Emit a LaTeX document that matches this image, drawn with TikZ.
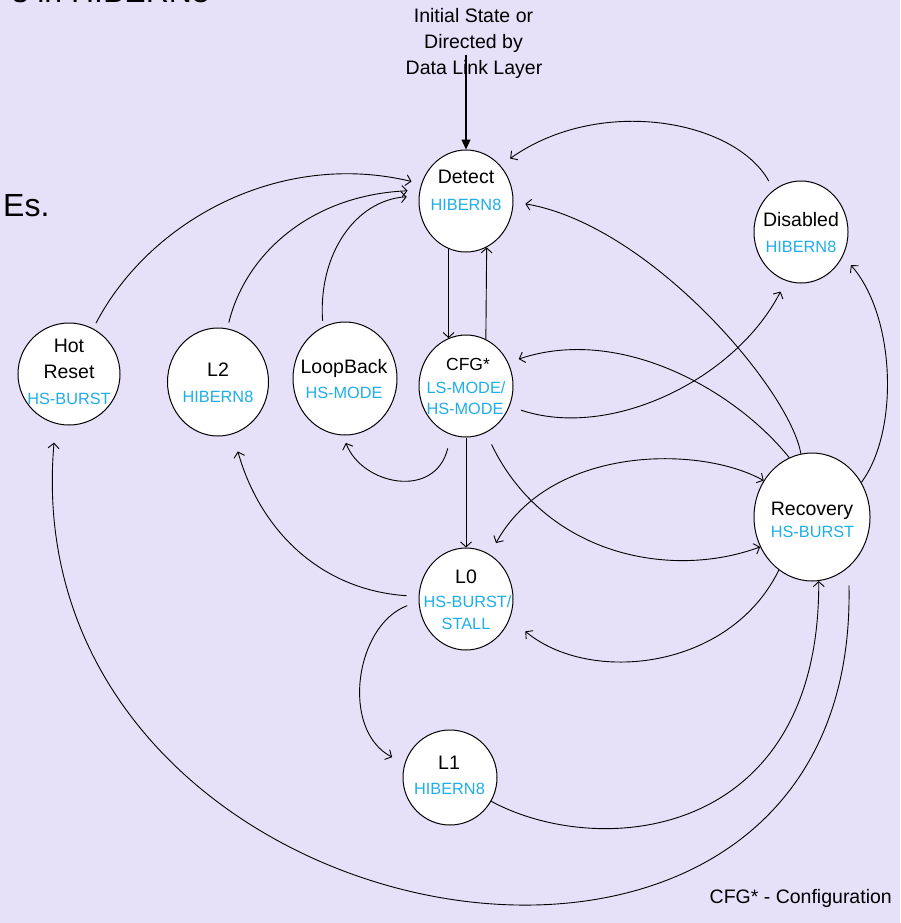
\documentclass[tikz,border=0pt]{standalone}
\usepackage{fontspec}
\setmainfont{Liberation Sans}
\usetikzlibrary{shapes.geometric,arrows.meta}
\definecolor{bgc}{RGB}{230,224,248}
\definecolor{stc}{RGB}{30,174,234}
\begin{document}
\begin{tikzpicture}[x=1pt,y=-1pt,
  st/.style={ellipse, draw=black, line width=1pt, fill=white, inner sep=0pt},
  bk/.style={font=\fontsize{19.5}{22}\selectfont, text=black, anchor=base, inner sep=0pt},
  bl/.style={font=\fontsize{16.3}{19}\selectfont, text=stc, anchor=base, inner sep=0pt},
  big/.style={font=\fontsize{32}{36}\selectfont, text=black, inner sep=0pt},
  edge/.style={draw=black, line width=0.9pt, -{Straight Barb[length=5pt,width=11pt]}},
  edgeb/.style={draw=black, line width=0.9pt, {Straight Barb[length=5pt,width=11pt]}-{Straight Barb[length=5pt,width=11pt]}},
  initarr/.style={draw=black, line width=1.2pt, -{Triangle[length=10pt,width=9pt]}}]
\fill[bgc] (0,0) rectangle (900,923);
\useasboundingbox (0,0) rectangle (900,923);

% partial slide text
\node[big, anchor=base east] (ttl) at (210,3) {s in HIBERN8};
\node[big, anchor=base west] (es) at (3,216) {Es.};

% states
\node[st, minimum width=94pt, minimum height=102pt] (det) at (466,201) {};
\node[st, minimum width=94pt, minimum height=102pt] (dis) at (801,232) {};
\node[st, minimum width=94pt, minimum height=102pt] (cfg) at (466,386) {};
\node[st, minimum width=116pt, minimum height=128pt] (rec) at (812,517) {};
\node[st, minimum width=94pt, minimum height=102pt] (l0) at (466,599) {};
\node[st, minimum width=94pt, minimum height=95pt] (l1) at (450,777.5) {};
\node[st, minimum width=102pt, minimum height=102pt] (hot) at (69,374) {};
\node[st, minimum width=101pt, minimum height=108pt] (l2) at (218,382) {};
\node[st, minimum width=104pt, minimum height=113pt] (lb) at (345,378.5) {};

% state texts
\node[bk] (detA) at (466,183) {Detect};
\node[bl] (detB) at (466,210) {HIBERN8};
\node[bk] (disA) at (801,226) {Disabled};
\node[bl] (disB) at (801,252) {HIBERN8};
\node[bk, font=\fontsize{17.5}{20}\selectfont] (cfgA) at (468,370) {CFG*};
\node[bl] (cfgB) at (466,393) {LS-MODE/};
\node[bl] (cfgC) at (465,414) {HS-MODE};
\node[bk] (recA) at (812,515) {Recovery};
\node[bl] (recB) at (812.5,537) {HS-BURST};
\node[bk] (l0A) at (466,583) {L0};
\node[bl] (l0B) at (467.5,607) {HS-BURST/};
\node[bl] (l0C) at (466,629) {STALL};
\node[bk] (l1A) at (449,769) {L1};
\node[bl] (l1B) at (449.5,794) {HIBERN8};
\node[bk] (hotA) at (69,352) {Hot};
\node[bk] (hotB) at (69,378) {Reset};
\node[bl] (hotC) at (69,404) {HS-BURST};
\node[bk] (l2A) at (218,376) {L2};
\node[bl] (l2B) at (218,402) {HIBERN8};
\node[bk] (lbA) at (344,373) {LoopBack};
\node[bl] (lbB) at (344,398) {HS-MODE};

% initial text and arrow
\node[bk] (ini1) at (473.5,23) {Initial State or};
\node[bk] (ini2) at (473.5,49) {Directed by};
\node[bk] (ini3) at (474,75) {Data Link Layer};
\coordinate (init) at (466,55);
\draw[initarr] (init) -- (det.north);

\node[bk, anchor=base east] (note) at (892,903) {CFG* - Configuration};

% transitions
\draw[edge, shorten <=6pt, shorten >=10pt] (hot.62) .. controls (150,220) and (280,150) .. (det.159);
\draw[edge, shorten <=6pt, shorten >=12pt] (l2.80.5) .. controls (245,255) and (310,195) .. (det.167);
\draw[edge, shorten <=6pt, shorten >=12pt] (lb.113) .. controls (318,255) and (355,200) .. (det.174);
\draw[edge] (det.-110) -- (cfg.110.2);
\draw[edge] (cfg.67.8) -- (det.-66.5);
\draw[edge, shorten <=10pt, shorten >=12pt] (dis.123.7) .. controls (735,120) and (600,95) .. (det.46);
\draw[edge, shorten >=12pt] (rec.100) .. controls (790,390) and (650,225) .. (det.-1);
\draw[edge, shorten >=11pt] (rec.111.8) .. controls (735,390) and (620,325) .. (cfg.29);
\draw[edge, shorten <=12pt, shorten >=12pt] (cfg.-25.7) .. controls (610,440) and (735,380) .. (dis.-107.6);
\draw[edge, shorten >=12pt] (rec.35.3) .. controls (900,430) and (895,315) .. (dis.-30.8);
\draw[edge] (cfg.south) -- (l0.north);
\draw[edge, shorten <=14pt, shorten >=8pt] (cfg.-107) .. controls (435,500) and (362,485) .. (lb.-92.6);
\draw[edge, shorten <=12pt, shorten >=18pt] (l0.177) .. controls (320,590) and (260,530) .. (l2.-74.8);
\draw[edge, shorten <=12pt, shorten >=14pt] (l0.-177.1) .. controls (355,625) and (340,730) .. (l1.163.7);
\draw[edge] (l1.-30) .. controls (600,860) and (820,840) .. (rec.-84.7);
\draw[edge, shorten <=18pt, shorten >=19pt] (rec.-54.5) .. controls (860,1100) and (10,950) .. (hot.-105.4);
\draw[edge, shorten <=13pt] (cfg.-67.9) .. controls (545,555) and (670,580) .. (rec.210.8);
\draw[edgeb, shorten <=13pt] (l0.62.6) .. controls (550,445) and (700,445) .. (rec.143.3);
\draw[edge, shorten >=20pt] (rec.-122.5) .. controls (730,670) and (590,685) .. (l0.-24.4);
\end{tikzpicture}
\end{document}
